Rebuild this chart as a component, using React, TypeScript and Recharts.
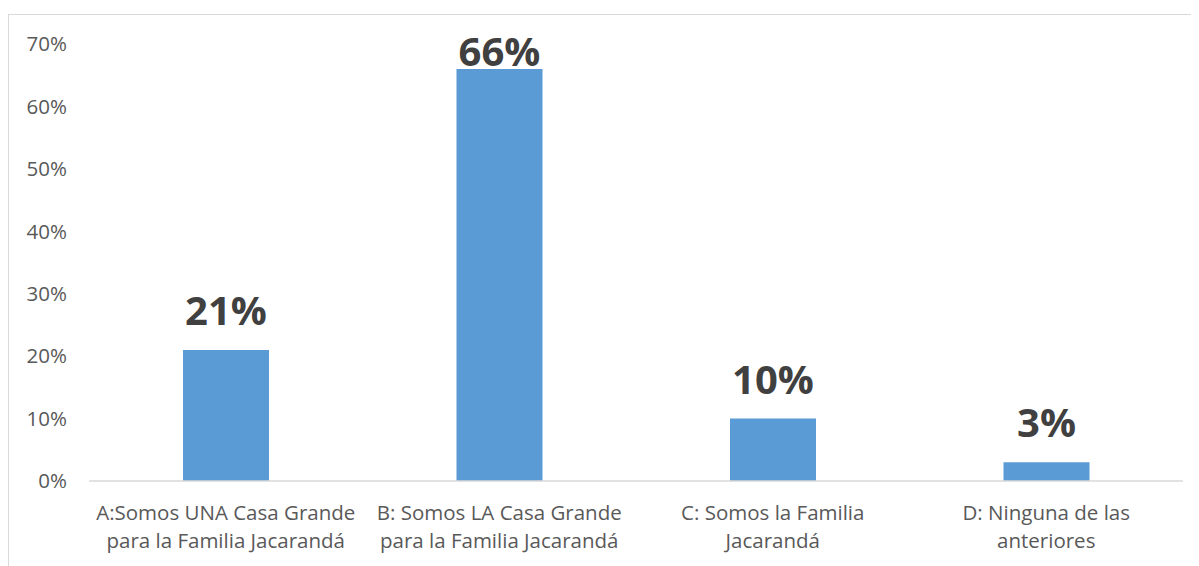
import { Bar, BarChart, LabelList, XAxis, YAxis } from "recharts";

const categories = [
  ["A:Somos UNA Casa Grande", "para la Familia Jacarandá"],
  ["B: Somos LA Casa Grande", "para la Familia Jacarandá"],
  ["C: Somos la Familia", "Jacarandá"],
  ["D: Ninguna de las", "anteriores"],
];
const values = [21, 66, 10, 3];
const yTicks = [0, 10, 20, 30, 40, 50, 60, 70];

const data = categories.map((c, i) => ({ name: c.join("\n"), value: values[i] }));

const FONT = "'Open Sans', sans-serif";
const PLOT_TOP = 30;

function CategoryTick(props: any) {
  const { x, y, payload } = props;
  const lines = String(payload.value).split("\n");
  return (
    <text x={x} y={y} textAnchor="middle" fill="#595959" fontSize={20.5} fontFamily={FONT}>
      {lines.map((l, i) => (
        <tspan key={i} x={x} dy={i === 0 ? 31 : 28}>
          {l}
        </tspan>
      ))}
    </text>
  );
}

function ValueLabel(props: any) {
  const { x, y, width, value } = props;
  // Excel keeps the label inside the plot area
  const base = Math.max(y - 25, PLOT_TOP + 21);
  return (
    <text
      x={x + width / 2}
      y={base}
      textAnchor="middle"
      fill="#404040"
      fontSize={40}
      fontWeight="bold"
      fontFamily={FONT}
    >
      {value}%
    </text>
  );
}

export default function App() {
  return (
    <div
      style={{
        marginTop: 6,
        width: 1191,
        height: 552,
        borderLeft: "1px solid #d9d9d9",
        borderTop: "1px solid #d9d9d9",
        boxSizing: "border-box",
      }}
    >
      <BarChart
        width={1190}
        height={551}
        data={data}
        margin={{ top: PLOT_TOP - 1, right: 16, left: 0, bottom: 4 }}
        barCategoryGap="34%"
      >
        <XAxis
          dataKey="name"
          interval={0}
          tick={<CategoryTick />}
          tickLine={false}
          axisLine={{ stroke: "#d9d9d9", strokeWidth: 1.5 }}
          height={81}
        />
        <YAxis
          domain={[0, 70]}
          ticks={yTicks}
          tickFormatter={(v: number) => `${v}%`}
          axisLine={false}
          tickLine={false}
          tickSize={0}
          tickMargin={22}
          width={80}
          tick={{ fill: "#595959", fontSize: 20.5, fontFamily: FONT }}
        />
        <Bar dataKey="value" fill="#5b9bd5" barSize={86} isAnimationActive={false}>
          <LabelList dataKey="value" content={<ValueLabel />} />
        </Bar>
      </BarChart>
    </div>
  );
}
